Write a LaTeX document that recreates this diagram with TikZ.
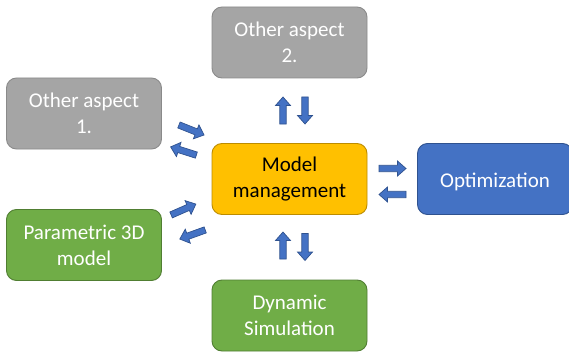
\documentclass[tikz,border=0pt]{standalone}
\usepackage{fontspec}
\setmainfont{Carlito}
\definecolor{grayfill}{HTML}{A5A5A5}
\definecolor{grayline}{HTML}{8A8A8A}
\definecolor{yelfill}{HTML}{FFC000}
\definecolor{yelline}{HTML}{BC8C00}
\definecolor{bluefill}{HTML}{4472C4}
\definecolor{blueline}{HTML}{2F528F}
\definecolor{grnfill}{HTML}{70AD47}
\definecolor{grnline}{HTML}{507E32}
\tikzset{
  box/.style={rounded corners=10pt, line width=0.9pt, minimum width=155pt, minimum height=71pt,
    align=center, font=\fontsize{21}{26}\selectfont, text=white, inner sep=0pt,
    execute at begin node={\rule{0pt}{21pt}}},
  graybox/.style={box, fill=grayfill, draw=grayline},
  yelbox/.style={box, fill=yelfill, draw=yelline, text=black},
  bluebox/.style={box, fill=bluefill, draw=blueline},
  grnbox/.style={box, fill=grnfill, draw=grnline},
  barrowstyle/.style={fill=bluefill, draw=blueline, line width=0.7pt, line join=miter}
}
\newcommand\blockarr[3]{%
  \coordinate (#1) at (#2);
  \filldraw[barrowstyle, shift={(#1)}, rotate=#3]
    (-13.5pt,-3.2pt) -- (5pt,-3.2pt) -- (5pt,-7.5pt) -- (13.5pt,0pt) -- (5pt,7.5pt) -- (5pt,3.2pt) -- (-13.5pt,3.2pt) -- cycle;}
\begin{document}
\begin{tikzpicture}[x=1pt,y=1pt]
\useasboundingbox (0,0) rectangle (569,354);
\node[graybox] (oa2) at (289.5,311.5) {Other aspect\\2.};
\node[graybox] (oa1) at (84,240.5) {Other aspect\\1.};
\node[yelbox] (mm) at (289.5,175) {Model\\management};
\node[bluebox] (opt) at (495,175) {Optimization};
\node[grnbox] (pd) at (84,109) {Parametric 3D\\model};
\node[grnbox] (ds) at (289.5,38.5) {Dynamic\\Simulation};
\blockarr{a1}{283,243.5}{90}
\blockarr{a2}{305,243.5}{-90}
\blockarr{a3}{283,108.5}{90}
\blockarr{a4}{305,107}{-90}
\blockarr{a5}{392.5,185.5}{0}
\blockarr{a6}{392.5,159.5}{180}
\blockarr{a7}{191.5,224}{-21.8}
\blockarr{a8}{183.5,203}{162.3}
\blockarr{a9}{183.5,144.5}{23.7}
\blockarr{a10}{192.5,119.5}{199.8}
\end{tikzpicture}
\end{document}
